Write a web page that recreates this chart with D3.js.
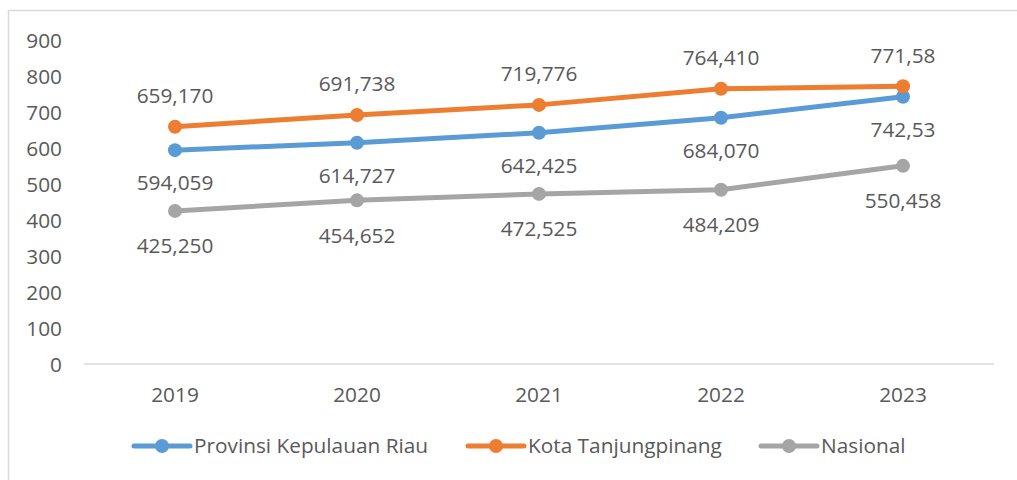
<!DOCTYPE html>
<html><head><meta charset="utf-8">
<script src="https://cdn.jsdelivr.net/npm/d3@7"></script>
<style>html,body{margin:0;padding:0;background:#fff;}svg{display:block;}</style>
</head><body>
<svg id="c" width="1017" height="480"></svg>
<script>
const years = ["2019","2020","2021","2022","2023"];
const riau = [594.059, 614.727, 642.425, 684.070, 742.53];
const tpi = [659.170, 691.738, 719.776, 764.410, 771.58];
const nas = [425.250, 454.652, 472.525, 484.209, 550.458];
const riauLabels = ["594,059","614,727","642,425","684,070","742,53"];
const tpiLabels = ["659,170","691,738","719,776","764,410","771,58"];
const nasLabels = ["425,250","454,652","472,525","484,209","550,458"];
const yTicks = [0,100,200,300,400,500,600,700,800,900];
const seriesNames = ["Provinsi Kepulauan Riau","Kota Tanjungpinang","Nasional"];

const svg = d3.select("#c");
const font = "'Open Sans', sans-serif";
const fs = 20.8;
const txt = "#595959";
svg.append("rect").attr("x",8.5).attr("y",10.5).attr("width",1020).attr("height",480)
  .attr("fill","none").attr("stroke","#d9d9d9").attr("stroke-width",1.5);

const x = d3.scaleBand().domain(years).range([84,994]);
const y = d3.scaleLinear().domain([0,900]).range([364,40]);
const cx = d => x(d)+x.bandwidth()/2;

svg.append("line").attr("x1",84).attr("x2",994).attr("y1",y(0)).attr("y2",y(0))
  .attr("stroke","#d9d9d9").attr("stroke-width",1.3);

const yAxis = d3.axisLeft(y).tickValues(yTicks).tickSize(0).tickPadding(0);
const ga = svg.append("g").attr("transform","translate(62,0)").call(yAxis);
ga.select(".domain").remove();
ga.selectAll("text").attr("font-family",font).attr("font-size",fs).attr("fill",txt).attr("dy","0.35em");

const xAxis = d3.axisBottom(x).tickSize(0).tickPadding(0);
const gx = svg.append("g").attr("transform","translate(0,395)").call(xAxis);
gx.select(".domain").remove();
gx.selectAll("text").attr("font-family",font).attr("font-size",fs).attr("fill",txt).attr("dy","0.35em");

const series = [
  {vals: riau, labels: riauLabels, color:"#5b9bd5", off: 33},
  {vals: tpi, labels: tpiLabels, color:"#ed7d31", off: -31},
  {vals: nas, labels: nasLabels, color:"#a5a5a5", off: 35}
];
const line = d3.line().x((d,i)=>cx(years[i])).y(d=>y(d));
series.forEach(s=>{
  svg.append("path").datum(s.vals).attr("d",line).attr("fill","none")
    .attr("stroke",s.color).attr("stroke-width",5).attr("stroke-linecap","round").attr("stroke-linejoin","round");
});
series.forEach(s=>{
  svg.selectAll(null).data(s.vals).enter().append("circle")
    .attr("cx",(d,i)=>cx(years[i])).attr("cy",d=>y(d)).attr("r",7).attr("fill",s.color);
});
series.forEach(s=>{
  svg.selectAll(null).data(s.vals).enter().append("text")
    .attr("x",(d,i)=>cx(years[i])).attr("y",d=>y(d)+s.off).attr("dy","0.35em")
    .attr("text-anchor","middle").attr("font-family",font).attr("font-size",fs).attr("fill",txt)
    .text((d,i)=>s.labels[i]);
});

const legX = [134,468,761];
series.forEach((s,i)=>{
  const g = svg.append("g").attr("transform",`translate(${legX[i]},446)`);
  g.append("line").attr("x1",0).attr("x2",56).attr("y1",0).attr("y2",0)
    .attr("stroke",s.color).attr("stroke-width",5).attr("stroke-linecap","round");
  g.append("circle").attr("cx",28).attr("cy",0).attr("r",7).attr("fill",s.color);
  g.append("text").attr("x",60).attr("y",0).attr("dy","0.35em").attr("font-family",font)
    .attr("font-size",fs).attr("fill",txt).text(seriesNames[i]);
});
</script>
</body></html>
